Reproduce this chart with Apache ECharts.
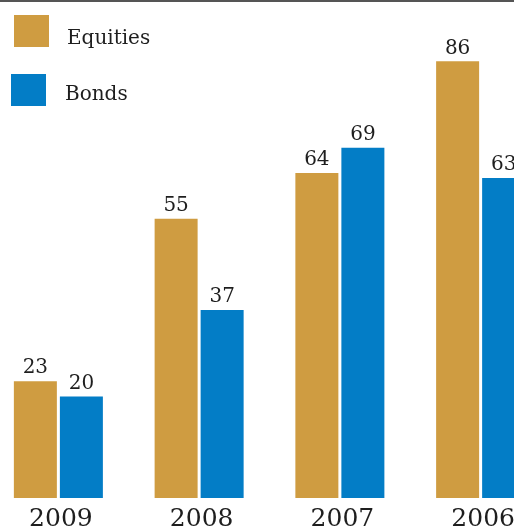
<!DOCTYPE html>
<html>
<head>
<meta charset="utf-8">
<script src="https://cdn.jsdelivr.net/npm/echarts@6/dist/echarts.min.js"></script>
<style>
  html, body { margin: 0; padding: 0; background: #fff; overflow: hidden; }
  body { width: 514px; height: 532px; position: relative; }
  /* the plot runs a little past both edges of the page */
  #chart { position: absolute; left: -12px; top: 0; width: 600px; height: 532px; }
</style>
</head>
<body>
<div id="chart"></div>
<script>
// Categories and values per series
const years = ['2009', '2008', '2007', '2006'];
const equities = [23, 55, 64, 86];
const bonds = [20, 37, 69, 63];

const GOLD = '#CF9C41';
const BLUE = '#037DC6';
const TEXT = '#1e1e1e';
const SERIF = '"DejaVu Serif", Georgia, serif';

const chart = echarts.init(document.getElementById('chart'), null, { renderer: 'canvas' });

const barLabel = {
  show: true,
  position: 'top',
  distance: 3,
  color: TEXT,
  fontFamily: SERIF,
  fontSize: 20
};

// legend entries: swatch plus a caption that sits a little below the swatch centre
function legendEntry(name, left, top, drop, gap) {
  return {
    data: [name],
    left: left, top: top,
    itemWidth: 35, itemHeight: 32,
    icon: 'rect',
    formatter: '{t|{name}}',
    textStyle: {
      color: TEXT, fontFamily: SERIF, fontSize: 20,
      rich: { t: { color: TEXT, fontFamily: SERIF, fontSize: 20, padding: [drop, 0, 0, gap] } }
    }
  };
}

chart.setOption({
  animation: false,
  backgroundColor: '#fff',
  graphic: [{
    type: 'rect',
    shape: { x: 0, y: 0, width: 600, height: 2 },
    style: { fill: '#555' },
    z: 10
  }],
  legend: [legendEntry('Equities', 21, 10, 16, 13), legendEntry('Bonds', 18, 69, 10, 14)],
  grid: { left: 0, width: 563, top: 41, bottom: 32, containLabel: false },
  xAxis: {
    type: 'category',
    data: years,
    axisLine: { show: false },
    axisTick: { show: false },
    axisLabel: { color: TEXT, fontFamily: SERIF, fontSize: 25, margin: 9, padding: [0, 0, 0, 5] }
  },
  yAxis: {
    type: 'value',
    min: 0, max: 90,
    show: false,
    splitLine: { show: false }
  },
  series: [{
    name: 'Equities',
    type: 'bar',
    data: equities,
    barWidth: 43,
    barGap: '7%',
    itemStyle: { color: GOLD },
    label: barLabel
  }, {
    name: 'Bonds',
    type: 'bar',
    data: bonds,
    barWidth: 43,
    barGap: '7%',
    itemStyle: { color: BLUE },
    label: barLabel
  }]
});
</script>
</body>
</html>
